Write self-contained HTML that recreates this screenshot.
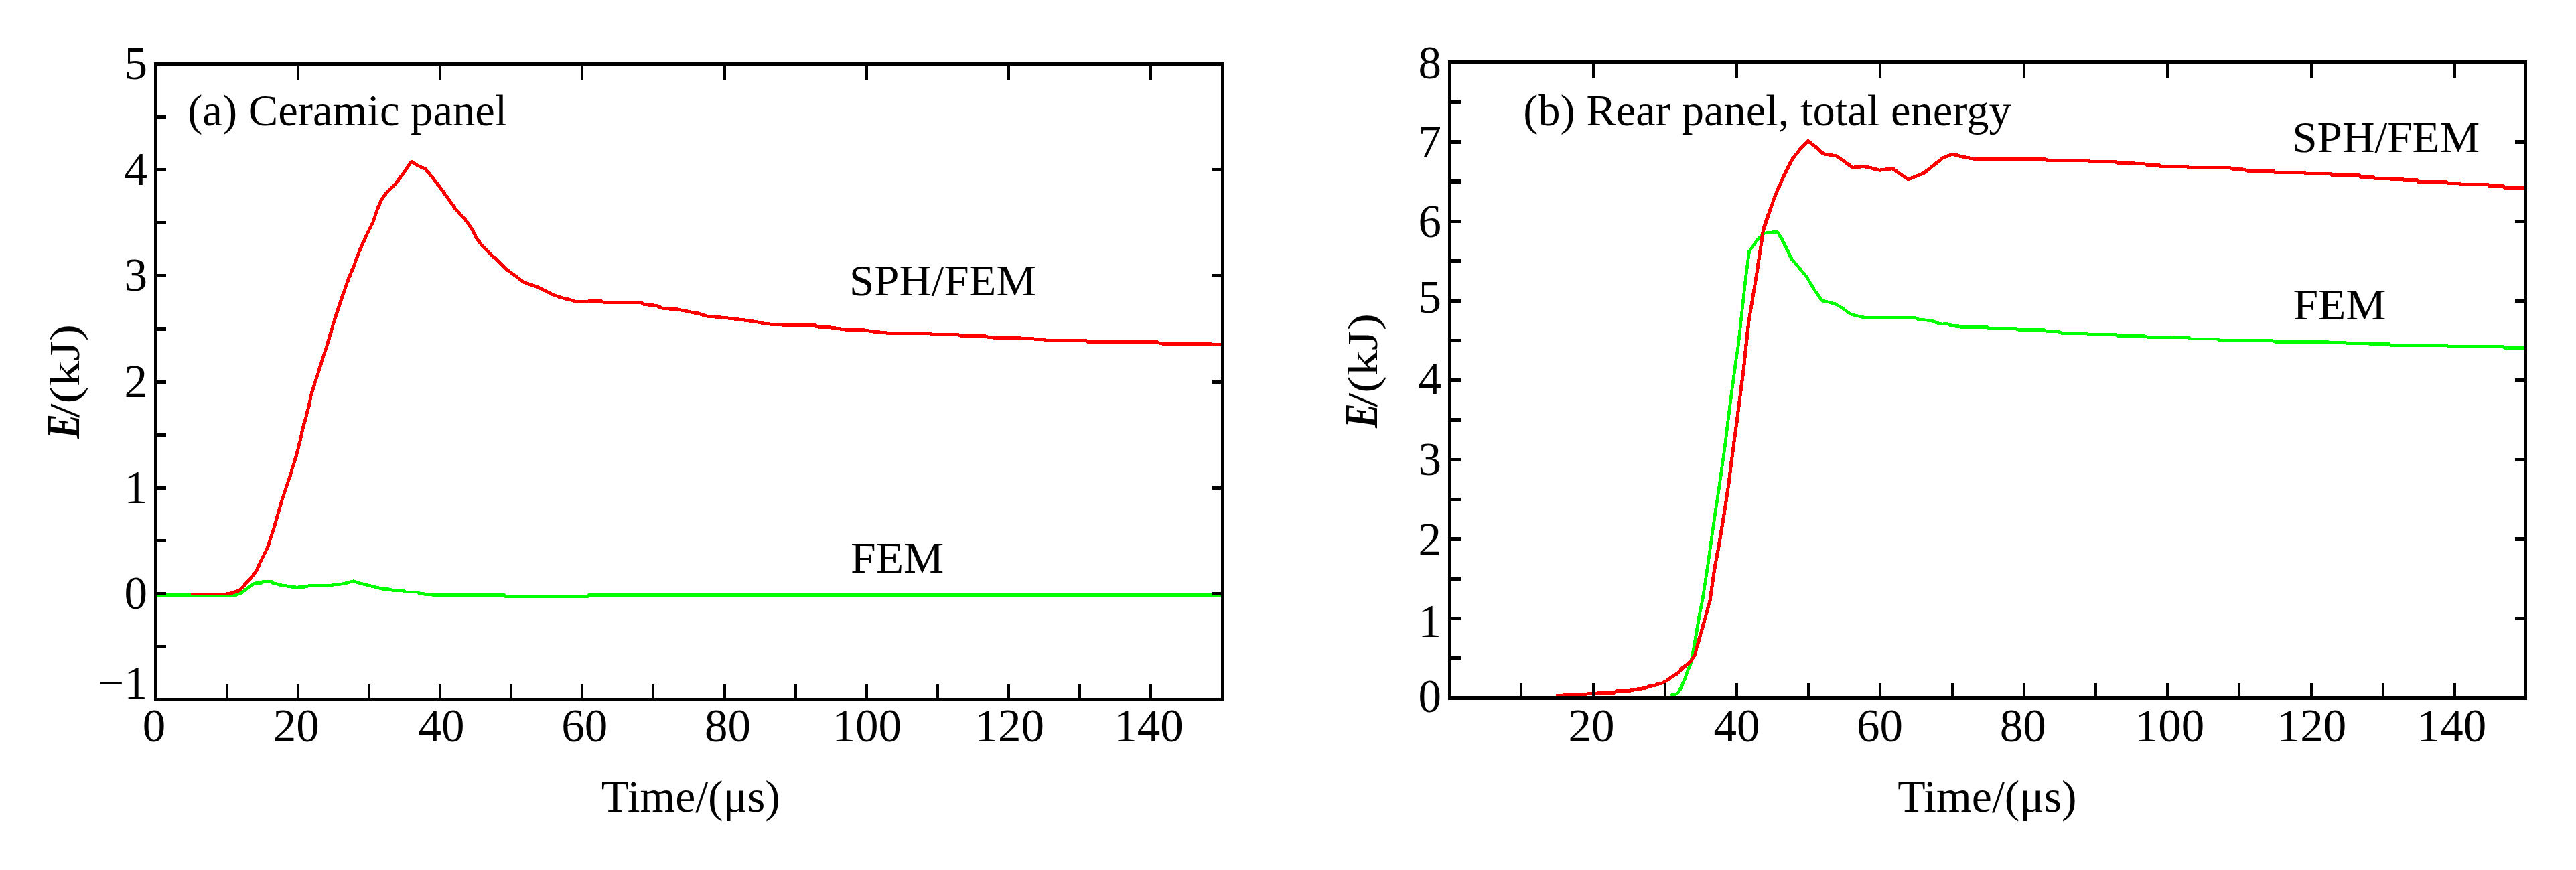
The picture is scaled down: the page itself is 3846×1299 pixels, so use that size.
<!DOCTYPE html>
<html lang="en"><head><meta charset="utf-8"><title>Energy histories: ceramic panel and rear panel</title>
<style>html,body{margin:0;padding:0;background:#fff}svg{display:block}text{font-family:"Liberation Serif",serif;fill:#000}</style></head><body>
<svg width="3846" height="1299" viewBox="0 0 3846 1299" shape-rendering="crispEdges">
<rect x="0" y="0" width="3846" height="1299" fill="#fff"/>
<g id="left-plot">
<polyline points="231.0,888.5 300.0,888.5 333.7,888.8 344.6,890.0 353.1,888.4 360.9,884.9 368.6,879.1 376.4,873.3 380.3,871.0 390.4,870.3 392.7,868.2 405.1,868.2 407.5,870.6 412.9,871.7 419.1,873.7 425.0,874.5 433.3,875.9 442.5,877.0 454.0,876.6 460.9,874.7 493.1,874.7 500.0,872.4 511.5,872.0 518.4,870.1 527.6,867.8 536.8,870.6 548.3,873.6 559.8,876.6 571.3,879.3 580.5,879.8 587.4,881.6 603.0,881.6 604.5,883.9 624.0,883.9 626.0,886.4 632.0,886.4 633.5,887.3 644.0,887.3 646.0,888.3 753.0,888.3 754.5,890.4 878.0,890.4 879.5,888.3 1823.5,888.3" fill="none" stroke="#00ff00" stroke-width="4.8" stroke-linejoin="round" stroke-linecap="butt"/>
<rect x="285.2" y="885.9" width="55.8" height="2.3" fill="#ff0000"/>
<polyline points="338.0,886.6 341.5,886.5 349.2,884.5 357.0,881.8 363.2,875.6 368.6,869.4 376.4,860.9 382.6,852.3 385.1,847.1 392.0,832.2 398.9,818.4 405.7,798.9 410.3,783.9 414.9,767.8 419.5,751.7 424.1,736.8 428.7,723.0 433.3,710.3 437.1,697.0 442.9,678.6 447.5,660.2 452.1,639.5 456.7,623.4 461.3,605.1 464.7,589.0 470.5,570.6 475.1,556.8 480.8,538.4 486.1,522.3 492.9,500.1 500.9,472.5 507.8,451.8 515.9,428.9 520.9,415.1 528.5,396.7 535.4,378.3 541.1,364.5 548.0,349.5 557.2,331.1 563.7,312.0 570.1,297.0 576.3,289.0 589.0,276.3 600.5,261.4 614.3,241.4 624.6,247.6 634.9,252.2 646.4,266.0 657.9,280.9 669.4,297.0 680.9,313.1 694.7,328.0 703.9,340.7 710.8,354.5 720.0,367.1 731.5,378.6 743.0,389.0 756.8,402.8 768.3,410.8 781.0,420.9 801.9,428.2 822.9,438.7 833.4,442.9 852.2,448.1 858.5,450.2 898.4,449.8 902.6,451.9 957.1,451.9 961.3,454.4 980.1,456.5 990.6,460.7 1007.4,461.3 1022.1,463.9 1032.5,466.4 1043.0,468.1 1053.5,471.8 1070.3,473.3 1091.2,475.4 1112.2,478.1 1129.0,480.6 1141.5,483.1 1156.2,484.8 1217.0,485.9 1221.2,488.0 1240.1,489.0 1263.1,492.2 1290.0,492.8 1302.6,494.9 1325.6,497.2 1386.4,497.2 1390.6,499.1 1430.5,499.3 1434.7,501.4 1470.3,501.4 1476.6,503.9 1516.4,504.6 1558.3,506.7 1562.5,508.6 1621.2,508.6 1625.4,510.9 1728.2,510.9 1732.3,513.0 1797.3,513.4 1823.5,514.8" fill="none" stroke="#ff0000" stroke-width="5.0" stroke-linejoin="round" stroke-linecap="butt"/>
<rect x="230.0" y="93.0" width="4.0" height="954.0" fill="#000"/>
<rect x="1823.2" y="93.0" width="4.8" height="954.0" fill="#000"/>
<rect x="230.0" y="93.0" width="1598.0" height="5.0" fill="#000"/>
<rect x="230.0" y="1042.0" width="1598.0" height="5.0" fill="#000"/>
<rect x="336.6" y="1022.0" width="4.0" height="21.0" fill="#000"/>
<rect x="442.8" y="1022.0" width="4.0" height="21.0" fill="#000"/>
<rect x="548.9" y="1022.0" width="4.0" height="21.0" fill="#000"/>
<rect x="655.0" y="1022.0" width="4.0" height="21.0" fill="#000"/>
<rect x="761.1" y="1022.0" width="4.0" height="21.0" fill="#000"/>
<rect x="867.3" y="1022.0" width="4.0" height="21.0" fill="#000"/>
<rect x="973.4" y="1022.0" width="4.0" height="21.0" fill="#000"/>
<rect x="1079.5" y="1022.0" width="4.0" height="21.0" fill="#000"/>
<rect x="1185.7" y="1022.0" width="4.0" height="21.0" fill="#000"/>
<rect x="1291.8" y="1022.0" width="4.0" height="21.0" fill="#000"/>
<rect x="1397.9" y="1022.0" width="4.0" height="21.0" fill="#000"/>
<rect x="1504.1" y="1022.0" width="4.0" height="21.0" fill="#000"/>
<rect x="1610.2" y="1022.0" width="4.0" height="21.0" fill="#000"/>
<rect x="1716.3" y="1022.0" width="4.0" height="21.0" fill="#000"/>
<rect x="442.8" y="97.0" width="4.0" height="22.5" fill="#000"/>
<rect x="655.0" y="97.0" width="4.0" height="22.5" fill="#000"/>
<rect x="867.3" y="97.0" width="4.0" height="22.5" fill="#000"/>
<rect x="1079.5" y="97.0" width="4.0" height="22.5" fill="#000"/>
<rect x="1291.8" y="97.0" width="4.0" height="22.5" fill="#000"/>
<rect x="1504.1" y="97.0" width="4.0" height="22.5" fill="#000"/>
<rect x="1716.3" y="97.0" width="4.0" height="22.5" fill="#000"/>
<rect x="233.0" y="962.7" width="15.0" height="5.4" fill="#000"/>
<rect x="233.0" y="883.6" width="15.0" height="5.4" fill="#000"/>
<rect x="233.0" y="804.5" width="15.0" height="5.4" fill="#000"/>
<rect x="233.0" y="725.4" width="15.0" height="5.4" fill="#000"/>
<rect x="233.0" y="646.3" width="15.0" height="5.4" fill="#000"/>
<rect x="233.0" y="567.2" width="15.0" height="5.4" fill="#000"/>
<rect x="233.0" y="488.1" width="15.0" height="5.4" fill="#000"/>
<rect x="233.0" y="409.0" width="15.0" height="5.4" fill="#000"/>
<rect x="233.0" y="329.9" width="15.0" height="5.4" fill="#000"/>
<rect x="233.0" y="250.8" width="15.0" height="5.4" fill="#000"/>
<rect x="233.0" y="171.7" width="15.0" height="5.4" fill="#000"/>
<rect x="1809.5" y="883.6" width="14.5" height="5.4" fill="#000"/>
<rect x="1809.5" y="725.4" width="14.5" height="5.4" fill="#000"/>
<rect x="1809.5" y="567.2" width="14.5" height="5.4" fill="#000"/>
<rect x="1809.5" y="409.0" width="14.5" height="5.4" fill="#000"/>
<rect x="1809.5" y="250.8" width="14.5" height="5.4" fill="#000"/>
<text x="229.9" y="1106.5" font-size="69" text-anchor="middle">0</text>
<text x="442.3" y="1106.5" font-size="69" text-anchor="middle">20</text>
<text x="659.1" y="1106.5" font-size="69" text-anchor="middle">40</text>
<text x="872.8" y="1106.5" font-size="69" text-anchor="middle">60</text>
<text x="1086.5" y="1106.5" font-size="69" text-anchor="middle">80</text>
<text x="1294.3" y="1106.5" font-size="69" text-anchor="middle">100</text>
<text x="1507.3" y="1106.5" font-size="69" text-anchor="middle">120</text>
<text x="1715.1" y="1106.5" font-size="69" text-anchor="middle">140</text>
<text x="220" y="1043.0" font-size="69" text-anchor="end">−1</text>
<text x="220" y="909.0" font-size="69" text-anchor="end">0</text>
<text x="220" y="750.8" font-size="69" text-anchor="end">1</text>
<text x="220" y="592.6" font-size="69" text-anchor="end">2</text>
<text x="220" y="434.4" font-size="69" text-anchor="end">3</text>
<text x="220" y="276.2" font-size="69" text-anchor="end">4</text>
<text x="220" y="118.0" font-size="69" text-anchor="end">5</text>
<text x="280.2" y="187.1" font-size="66.5" textLength="477.2" lengthAdjust="spacingAndGlyphs">(a) Ceramic panel</text>
<text x="1268" y="440.5" font-size="66" textLength="279" lengthAdjust="spacingAndGlyphs">SPH/FEM</text>
<text x="1270" y="854.9" font-size="66" textLength="139.3" lengthAdjust="spacingAndGlyphs">FEM</text>
<text x="897.8" y="1211.5" font-size="68" textLength="267" lengthAdjust="spacingAndGlyphs">Time/(μs)</text>
<text transform="translate(117.8 654.7) rotate(-90)" font-size="70" font-style="italic" font-weight="bold" textLength="36.5" lengthAdjust="spacingAndGlyphs">E</text>
<text transform="translate(117.8 623.7) rotate(-90)" font-size="64" textLength="140" lengthAdjust="spacingAndGlyphs">/(kJ)</text>
</g>
<g id="right-plot">
<polyline points="2493.5,1038.3 2504.2,1035.7 2509.1,1028.5 2514.9,1014.8 2520.8,999.2 2524.7,989.4 2527.6,973.8 2530.6,958.2 2533.5,940.6 2536.4,923.0 2539.4,907.4 2542.3,893.0 2549.7,844.8 2556.1,798.9 2562.1,757.5 2569.0,711.5 2574.9,670.1 2580.5,624.1 2586.4,578.2 2592.0,536.8 2595.2,516.1 2599.1,480.9 2603.0,445.7 2606.9,410.6 2611.6,375.4 2622.5,359.8 2634.2,348.0 2653.8,346.1 2659.6,355.8 2675.3,387.1 2696.8,412.5 2708.5,432.0 2720.2,448.8 2739.8,453.5 2751.5,460.6 2763.2,469.2 2782.7,473.9 2857.0,473.9 2864.8,477.0 2884.3,478.9 2892.2,482.1 2900.0,484.1 2905.9,482.9 2911.7,485.7 2923.4,486.4 2927.4,488.4 2966.4,488.4 2970.3,490.3 3009.4,490.3 3013.3,492.3 3052.4,492.7 3056.3,494.6 3073.9,495.0 3077.8,497.4 3114.9,497.4 3118.8,499.3 3157.9,499.3 3161.8,501.3 3200.9,501.3 3206.8,503.6 3267.3,504.0 3271.2,506.0 3310.3,506.0 3314.2,508.3 3392.4,508.3 3398.2,510.7 3500.7,510.9 3504.1,512.9 3566.2,513.4 3569.7,515.5 3652.4,515.5 3655.9,517.6 3736.9,517.6 3740.3,519.8 3769.0,519.8" fill="none" stroke="#00ff00" stroke-width="4.7" stroke-linejoin="round" stroke-linecap="butt"/>
<polyline points="2323.4,1038.3 2360.6,1037.3 2374.3,1035.3 2409.4,1034.4 2413.3,1032.0 2432.9,1031.4 2446.6,1028.5 2456.3,1027.5 2462.2,1024.6 2470.0,1023.6 2475.9,1021.1 2482.7,1019.7 2489.5,1015.8 2497.4,1009.9 2505.2,1005.1 2511.0,998.2 2518.9,992.4 2524.7,987.1 2530.6,977.7 2533.5,966.0 2537.4,952.3 2541.3,938.6 2545.2,924.9 2549.1,911.3 2553.2,895.5 2559.8,849.4 2566.7,812.6 2573.6,771.3 2580.5,725.3 2586.4,679.3 2592.0,637.9 2597.9,592.0 2603.4,550.6 2606.9,516.1 2610.8,480.9 2616.7,445.7 2622.5,410.6 2628.4,371.5 2632.3,344.1 2640.1,320.7 2649.9,293.3 2661.6,266.0 2675.3,238.6 2689.0,221.0 2699.5,210.5 2710.5,219.1 2722.2,229.6 2741.7,232.8 2755.4,242.5 2766.3,250.3 2782.7,248.4 2794.5,251.1 2806.2,254.2 2825.7,251.5 2837.5,260.1 2849.2,267.9 2872.6,258.2 2892.2,242.5 2900.0,236.3 2914.8,230.1 2931.3,234.4 2946.9,237.1 3052.4,237.5 3056.3,239.1 3116.9,239.9 3120.8,241.4 3157.9,241.4 3161.8,243.8 3200.9,244.2 3204.8,246.1 3222.4,246.1 3226.3,248.8 3265.4,248.8 3269.3,250.8 3329.9,250.8 3333.8,252.8 3351.3,253.1 3355.3,255.1 3394.3,255.5 3396.5,257.5 3439.0,257.5 3445.0,259.9 3480.5,259.9 3482.0,261.9 3522.5,261.9 3524.0,264.4 3543.5,264.4 3546.0,266.9 3587.0,267.0 3589.0,268.5 3608.5,268.5 3610.5,271.5 3652.0,271.5 3654.0,273.4 3672.0,273.4 3674.0,275.8 3715.0,275.8 3717.0,278.0 3737.5,278.0 3740.0,280.9 3769.0,280.9" fill="none" stroke="#ff0000" stroke-width="5.1" stroke-linejoin="round" stroke-linecap="butt"/>
<rect x="2162.0" y="90.0" width="4.0" height="955.0" fill="#000"/>
<rect x="3769.0" y="90.0" width="4.0" height="955.0" fill="#000"/>
<rect x="2162.0" y="90.0" width="1611.0" height="6.0" fill="#000"/>
<rect x="2162.0" y="1039.0" width="1611.0" height="6.0" fill="#000"/>
<rect x="2269.0" y="1020.0" width="4.0" height="20.0" fill="#000"/>
<rect x="2377.0" y="1020.0" width="4.0" height="20.0" fill="#000"/>
<rect x="2484.0" y="1020.0" width="4.0" height="20.0" fill="#000"/>
<rect x="2591.0" y="1020.0" width="4.0" height="20.0" fill="#000"/>
<rect x="2698.0" y="1020.0" width="4.0" height="20.0" fill="#000"/>
<rect x="2805.0" y="1020.0" width="4.0" height="20.0" fill="#000"/>
<rect x="2913.0" y="1020.0" width="4.0" height="20.0" fill="#000"/>
<rect x="3020.0" y="1020.0" width="4.0" height="20.0" fill="#000"/>
<rect x="3127.0" y="1020.0" width="4.0" height="20.0" fill="#000"/>
<rect x="3234.0" y="1020.0" width="4.0" height="20.0" fill="#000"/>
<rect x="3341.0" y="1020.0" width="4.0" height="20.0" fill="#000"/>
<rect x="3449.0" y="1020.0" width="4.0" height="20.0" fill="#000"/>
<rect x="3556.0" y="1020.0" width="4.0" height="20.0" fill="#000"/>
<rect x="3663.0" y="1020.0" width="4.0" height="20.0" fill="#000"/>
<rect x="2377.0" y="95.0" width="4.0" height="21.0" fill="#000"/>
<rect x="2591.0" y="95.0" width="4.0" height="21.0" fill="#000"/>
<rect x="2805.0" y="95.0" width="4.0" height="21.0" fill="#000"/>
<rect x="3020.0" y="95.0" width="4.0" height="21.0" fill="#000"/>
<rect x="3234.0" y="95.0" width="4.0" height="21.0" fill="#000"/>
<rect x="3449.0" y="95.0" width="4.0" height="21.0" fill="#000"/>
<rect x="3663.0" y="95.0" width="4.0" height="21.0" fill="#000"/>
<rect x="2165.0" y="980.0" width="16.0" height="5.4" fill="#000"/>
<rect x="2165.0" y="920.7" width="16.0" height="5.4" fill="#000"/>
<rect x="2165.0" y="861.4" width="16.0" height="5.4" fill="#000"/>
<rect x="2165.0" y="802.1" width="16.0" height="5.4" fill="#000"/>
<rect x="2165.0" y="742.8" width="16.0" height="5.4" fill="#000"/>
<rect x="2165.0" y="683.5" width="16.0" height="5.4" fill="#000"/>
<rect x="2165.0" y="624.2" width="16.0" height="5.4" fill="#000"/>
<rect x="2165.0" y="564.9" width="16.0" height="5.4" fill="#000"/>
<rect x="2165.0" y="505.6" width="16.0" height="5.4" fill="#000"/>
<rect x="2165.0" y="446.3" width="16.0" height="5.4" fill="#000"/>
<rect x="2165.0" y="387.0" width="16.0" height="5.4" fill="#000"/>
<rect x="2165.0" y="327.7" width="16.0" height="5.4" fill="#000"/>
<rect x="2165.0" y="268.4" width="16.0" height="5.4" fill="#000"/>
<rect x="2165.0" y="209.1" width="16.0" height="5.4" fill="#000"/>
<rect x="2165.0" y="149.8" width="16.0" height="5.4" fill="#000"/>
<rect x="3755.0" y="920.7" width="15.0" height="5.4" fill="#000"/>
<rect x="3755.0" y="802.1" width="15.0" height="5.4" fill="#000"/>
<rect x="3755.0" y="683.5" width="15.0" height="5.4" fill="#000"/>
<rect x="3755.0" y="564.9" width="15.0" height="5.4" fill="#000"/>
<rect x="3755.0" y="446.3" width="15.0" height="5.4" fill="#000"/>
<rect x="3755.0" y="327.7" width="15.0" height="5.4" fill="#000"/>
<rect x="3755.0" y="209.1" width="15.0" height="5.4" fill="#000"/>
<text x="2376.1" y="1106.5" font-size="69" text-anchor="middle">20</text>
<text x="2593.1" y="1106.5" font-size="69" text-anchor="middle">40</text>
<text x="2806.4" y="1106.5" font-size="69" text-anchor="middle">60</text>
<text x="3020.2" y="1106.5" font-size="69" text-anchor="middle">80</text>
<text x="3239.4" y="1106.5" font-size="69" text-anchor="middle">100</text>
<text x="3451.4" y="1106.5" font-size="69" text-anchor="middle">120</text>
<text x="3660.4" y="1106.5" font-size="69" text-anchor="middle">140</text>
<text x="2152" y="1063.3" font-size="69" text-anchor="end">0</text>
<text x="2152" y="951.2" font-size="69" text-anchor="end">1</text>
<text x="2152" y="829.0" font-size="69" text-anchor="end">2</text>
<text x="2152" y="709.1" font-size="69" text-anchor="end">3</text>
<text x="2152" y="589.0" font-size="69" text-anchor="end">4</text>
<text x="2152" y="467.4" font-size="69" text-anchor="end">5</text>
<text x="2152" y="353.5" font-size="69" text-anchor="end">6</text>
<text x="2152" y="234.5" font-size="69" text-anchor="end">7</text>
<text x="2152" y="117.2" font-size="69" text-anchor="end">8</text>
<text x="2274.2" y="186.8" font-size="66" textLength="728.6" lengthAdjust="spacingAndGlyphs">(b) Rear panel, total energy</text>
<text x="3422.2" y="226.7" font-size="66" textLength="280.2" lengthAdjust="spacingAndGlyphs">SPH/FEM</text>
<text x="3423.4" y="477.4" font-size="66" textLength="139.1" lengthAdjust="spacingAndGlyphs">FEM</text>
<text x="2833.2" y="1211.5" font-size="68" textLength="267.5" lengthAdjust="spacingAndGlyphs">Time/(μs)</text>
<text transform="translate(2055.8 638.9) rotate(-90)" font-size="70" font-style="italic" font-weight="bold" textLength="36.5" lengthAdjust="spacingAndGlyphs">E</text>
<text transform="translate(2055.8 607.9) rotate(-90)" font-size="64" textLength="140" lengthAdjust="spacingAndGlyphs">/(kJ)</text>
</g>
</svg></body></html>
